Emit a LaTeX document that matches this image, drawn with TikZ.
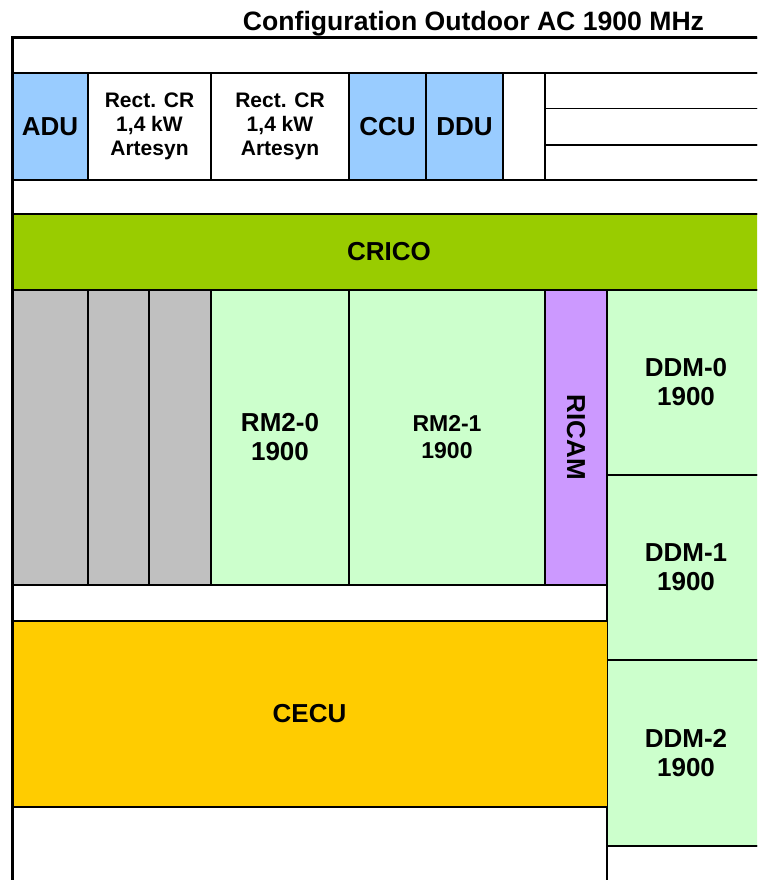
\documentclass[tikz,border=0pt]{standalone}
\usepackage{fontspec}
\setmainfont{Liberation Sans}
\definecolor{blu}{HTML}{99CCFF}
\definecolor{crgreen}{HTML}{99CC00}
\definecolor{ltgreen}{HTML}{CCFFCC}
\definecolor{gry}{HTML}{C0C0C0}
\definecolor{pur}{HTML}{CC99FF}
\definecolor{gold}{HTML}{FFCC00}
\tikzset{
  cell/.style={draw=black, line width=1.6pt, anchor=north west, inner sep=0pt, outer sep=0pt,
    align=center, font=\bfseries\fontsize{26}{29}\selectfont},
  smalltxt/.style={font=\bfseries\fontsize{21}{24}\selectfont},
  midtxt/.style={font=\bfseries\fontsize{23}{27}\selectfont},
  bigtxt/.style={font=\bfseries\fontsize{26}{29}\selectfont, inner sep=0pt},
}
\begin{document}
\begin{tikzpicture}[x=1pt,y=-1pt]
\useasboundingbox (0,0) rectangle (757,880);
\clip (0,0) rectangle (757,880);
\fill[white] (0,0) rectangle (757,880);
% top strips
\node[cell, minimum width=754pt, minimum height=35pt] (topstrip) at (12,38) {};
\node[cell, minimum width=754pt, minimum height=34pt] (midstrip) at (12,180) {};
% top row
\node[cell, fill=blu, minimum width=76pt, minimum height=107pt] (adu) at (12,73) {ADU};
\node[cell, smalltxt, minimum width=123pt, minimum height=107pt] (rect1) at (88,73) {Rect. CR\\1,4 kW\\Artesyn};
\node[cell, smalltxt, minimum width=138pt, minimum height=107pt] (rect2) at (211,73) {Rect. CR\\1,4 kW\\Artesyn};
\node[cell, fill=blu, minimum width=77pt, minimum height=107pt] (ccu) at (349,73) {CCU};
\node[cell, fill=blu, minimum width=77pt, minimum height=107pt] (ddu) at (426,73) {DDU};
\node[cell, minimum width=42pt, minimum height=107pt] (emptyslot) at (503,73) {};
\node[cell, minimum width=221pt, minimum height=35.5pt] (rowa) at (545,73) {};
\node[cell, minimum width=221pt, minimum height=36.5pt] (rowb) at (545,108.5) {};
\node[cell, minimum width=221pt, minimum height=35pt] (rowc) at (545,145) {};
% CRICO
\node[cell, fill=crgreen, minimum width=754pt, minimum height=76pt, line width=2pt] (crico) at (12,214) {CRICO};
% module row
\node[cell, fill=gry, minimum width=76pt, minimum height=295pt] (grya) at (12,290) {};
\node[cell, fill=gry, minimum width=61pt, minimum height=295pt] (gryb) at (88,290) {};
\node[cell, fill=gry, minimum width=62pt, minimum height=295pt] (gryc) at (149,290) {};
\node[cell, fill=ltgreen, minimum width=138pt, minimum height=295pt] (rmzero) at (211,290) {RM2-0\\1900};
\node[cell, midtxt, fill=ltgreen, minimum width=196pt, minimum height=295pt] (rmone) at (349,290) {RM2-1\\1900};
\node[cell, fill=pur, minimum width=62pt, minimum height=295pt] (ricam) at (545,290) {};
\node[bigtxt, rotate=-90] (ricamlbl) at (ricam.center) {RICAM};
% DDM column
\node[cell, fill=ltgreen, minimum width=158pt, minimum height=185pt] (ddmzero) at (607,290) {DDM-0\\1900};
\node[cell, fill=ltgreen, minimum width=158pt, minimum height=185pt] (ddmone) at (607,475) {DDM-1\\1900};
\node[cell, fill=ltgreen, minimum width=158pt, minimum height=186pt] (ddmtwo) at (607,660) {DDM-2\\1900};
\node[cell, minimum width=158pt, minimum height=60pt] (ddmfoot) at (607,846) {};
% lower part
\node[cell, minimum width=595pt, minimum height=36pt] (gap) at (12,585) {};
\node[cell, fill=gold, line width=1pt, minimum width=595pt, minimum height=186pt] (cecu) at (12,621) {CECU};
\node[cell, minimum width=595pt, minimum height=80pt] (foot) at (12,807) {};
\draw[line width=1.6pt] (cecu.south west) -- (cecu.south east);
% outer frame
\draw[line width=3pt] (topstrip.north east) -- (topstrip.north west) -- (foot.south west);
% title
\node[font=\bfseries\fontsize{26.6}{30}\selectfont, anchor=base, inner sep=0pt] (title) at (473.5,31) {Configuration Outdoor AC 1900 MHz};
\end{tikzpicture}
\end{document}
